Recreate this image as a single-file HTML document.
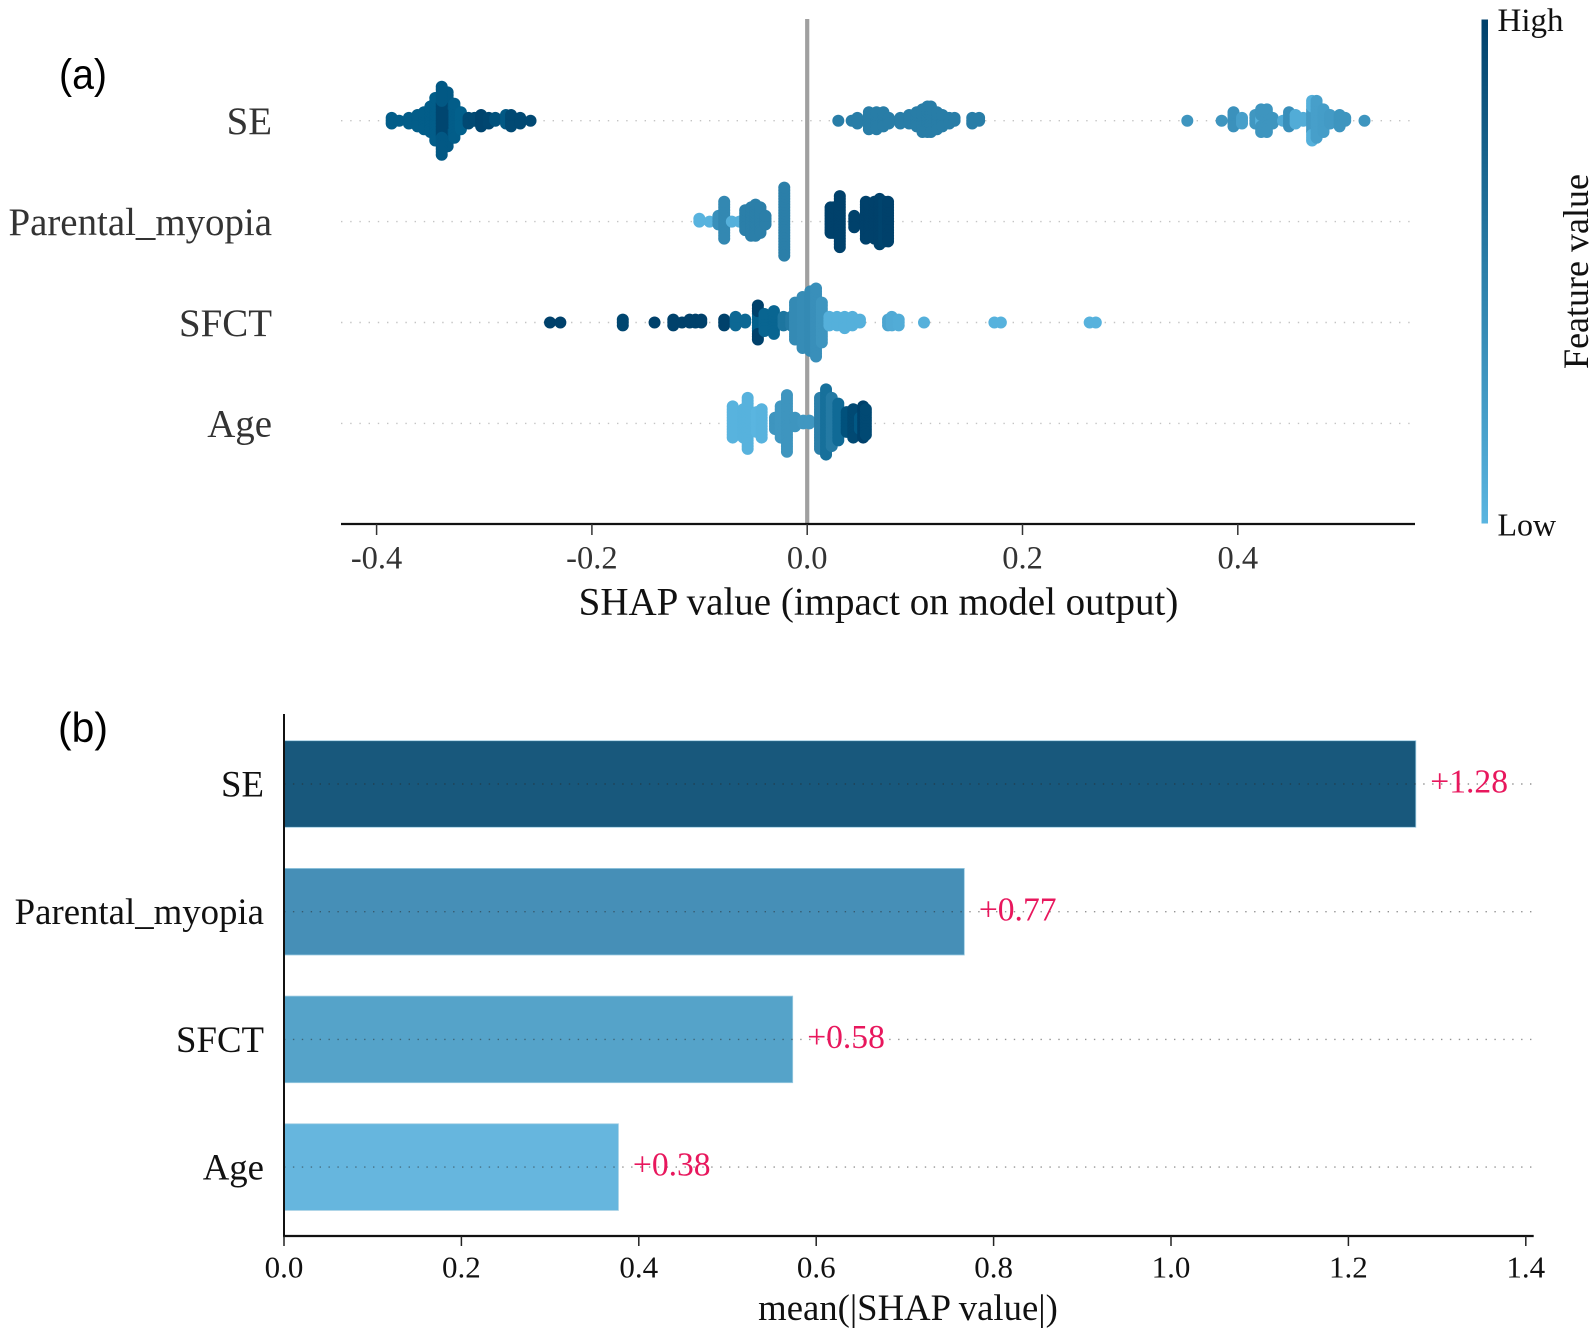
<!DOCTYPE html>
<html lang="en">
<head>
<meta charset="utf-8">
<title>SHAP summary and mean SHAP value charts</title>
<style>
html,body{margin:0;padding:0;background:#fff;}
svg{display:block;}
text{font-family:"Liberation Serif","Times New Roman",serif;}
</style>
</head>
<body>
<svg id="chart" xmlns="http://www.w3.org/2000/svg" width="1595" height="1337" viewBox="0 0 1595 1337">
  <defs>
    <linearGradient id="cbar" x1="0" y1="0" x2="0" y2="1">
      <stop offset="0" stop-color="#00416b"/>
      <stop offset="0.5" stop-color="#2b7fa9"/>
      <stop offset="1" stop-color="#5ab5e0"/>
    </linearGradient>
  </defs>
  <rect x="0" y="0" width="1595" height="1337" fill="#fff"/>

  <text x="59" y="88.5" font-size="42" fill="#000" style="font-family:'Liberation Sans',sans-serif" textLength="48" lengthAdjust="spacingAndGlyphs">(a)</text>
  <g id="panelA"></g>
  <rect x="1481.5" y="19.5" width="6.5" height="504" fill="url(#cbar)"/>
  <text x="1497.5" y="31" font-size="33" fill="#111">High</text>
  <text x="1497.5" y="535.5" font-size="32" fill="#111">Low</text>
  <text transform="translate(1588,271.5) rotate(-90)" text-anchor="middle" font-size="36" fill="#111">Feature value</text>
  <text x="878.5" y="614.3" text-anchor="middle" font-size="39" fill="#111">SHAP value (impact on model output)</text>

  <text x="58" y="742" font-size="42" fill="#000" style="font-family:'Liberation Sans',sans-serif" textLength="50" lengthAdjust="spacingAndGlyphs">(b)</text>
  <g id="panelB"></g>
  <text x="908" y="1320" text-anchor="middle" font-size="36.7" fill="#111">mean(|SHAP value|)</text>
</svg>

<script>
// ---- Shared categories ----
const features = ["SE", "Parental_myopia", "SFCT", "Age"];

// ---- Panel (a): distinct SHAP values, sample counts at each value, normalised feature values ----
const seShap = [-0.386,-0.379,-0.370,-0.362,-0.356,-0.350,-0.3455,-0.334,-0.334,-0.3277,-0.3217,-0.3395,-0.3395,-0.3146,-0.309,-0.3029,-0.2958,-0.2897,-0.2798,-0.2751,-0.2666,-0.257,
  0.0289,0.0413,0.0466,0.0573,0.0644,0.0708,0.0758,0.0865,0.0947,0.1017,0.1071,0.1117,0.1149,0.1206,0.1256,0.132,0.1369,0.1533,0.1597,
  0.3531,0.385,0.396,0.4039,0.4163,0.4217,0.4217,0.427,0.4324,0.442,0.4476,0.4537,0.4608,0.469,0.469,0.4732,0.4796,0.4857,0.4946,0.4998,0.5177];
const seCount = [3,1,3,5,7,10,16,10,10,13,7,12,13,3,2,5,3,2,4,5,3,1,
  1,1,3,7,7,6,3,3,4,6,9,10,10,7,5,3,2,3,2,
  1,1,6,3,4,3,6,9,3,1,6,4,2,9,6,14,9,4,5,2,1];
const seFeature = [0.82,0.82,0.82,0.82,0.82,0.82,0.82,0.95,0.85,0.82,0.8,0.97,0.85,0.95,0.95,0.98,0.97,0.9,0.85,0.95,0.95,0.95,
  0.52,0.52,0.52,0.52,0.52,0.52,0.52,0.52,0.52,0.52,0.52,0.52,0.52,0.52,0.52,0.52,0.52,0.52,0.52,
  0.3,0.3,0.33,0.2,0.28,0.03,0.3,0.3,0.3,0.1,0.35,0.08,0.08,0.25,0.05,0.2,0.22,0.25,0.3,0.3,0.3];

const parentalShap = [-0.1002,-0.0907,-0.0825,-0.0771,-0.07,-0.0629,-0.0576,-0.0522,-0.048,-0.0434,-0.0387,-0.0213,
  0.0217,0.0242,0.0303,0.0437,0.0545,0.058,0.0625,0.0673,0.0715,0.0751];
const parentalCount = [2,1,4,14,1,1,8,11,12,10,4,25,10,10,19,5,14,12,14,17,15,15];
const parentalFeature = [0.02,0.02,0.35,0.42,0.05,0.05,0.5,0.5,0.5,0.5,0.5,0.5,1,1,1,1,1,1,1,1,0.98,1];

const sfctShap = [-0.2389,-0.2293,-0.1713,-0.1418,-0.1244,-0.1163,-0.1092,-0.1038,-0.0984,-0.0771,-0.0665,-0.0576,-0.0458,-0.0458,-0.0397,-0.0309,-0.022,-0.0149,-0.0113,-0.0043,0.0029,0.0082,0.0136,
  0.0206,0.0277,0.0348,0.042,0.049,0.0751,0.0786,0.085,0.1085,0.1739,0.1799,0.2624,0.2681];
const sfctCount = [1,1,3,1,3,1,2,2,2,3,4,2,7,6,7,9,4,4,14,19,22,25,15,4,4,5,4,2,3,4,3,1,1,1,1,1];
const sfctFeature = [1,1,0.97,1,1,1,1,1,1,1,0.72,0.72,0.8,1,0.75,0.75,0.6,0.55,0.4,0.38,0.4,0.35,0.3,
  0.05,0.05,0.05,0.05,0.05,0.15,0.1,0.08,0.05,0.03,0.03,0.03,0.03];

const ageShap = [-0.0692,-0.0593,-0.0553,-0.0469,-0.0423,-0.0299,-0.0246,-0.0188,-0.0113,-0.0036,0.002,
  0.0119,0.0175,0.0228,0.0289,0.0367,0.0428,0.049,0.052,0.0545];
const ageCount = [12,11,19,8,11,5,12,21,4,2,2,19,24,18,14,8,11,5,12,10];
const ageFeature = [0.02,0.03,0.03,0,0.02,0.3,0.28,0.3,0.3,0.28,0.28,0.5,0.65,0.55,0.7,0.9,0.95,0.85,1,0.95];

const shapTicks = [-0.4, -0.2, 0, 0.2, 0.4];
const shapTickLabels = ["-0.4", "-0.2", "0.0", "0.2", "0.4"];

// ---- Panel (b) ----
const barValues = [1.276, 0.767, 0.5735, 0.377];
const barLabels = ["+1.28", "+0.77", "+0.58", "+0.38"];
const barTicks = [0, 0.2, 0.4, 0.6, 0.8, 1.0, 1.2, 1.4];
const barTickLabels = ["0.0", "0.2", "0.4", "0.6", "0.8", "1.0", "1.2", "1.4"];

// ---- Axis functions and rendering ----
const NS = "http://www.w3.org/2000/svg";
const xA = v => 807.2 + v * 1076.5;
const yA = i => 120.7 + i * 100.9;
const xB = v => 284 + v * 887;
const yB = i => 784 + i * 127.7;
const barFill = ["#18587c", "#468fb7", "#55a3c9", "#66b6de"];
const stopAt = [0, 0.5, 0.8, 1];
const stopColor = [[90,181,224],[43,127,169],[2,96,140],[0,65,107]];

function colorOf(f) {
  const t = Math.max(0, Math.min(1, f));
  let k = 0;
  while (k < stopAt.length - 2 && t > stopAt[k + 1]) k++;
  const u = (t - stopAt[k]) / (stopAt[k + 1] - stopAt[k]);
  const c = [0,1,2].map(j => Math.round(stopColor[k][j] + (stopColor[k+1][j] - stopColor[k][j]) * u));
  return "rgb(" + c.join(",") + ")";
}
function make(parent, tag, attrs) {
  const el = document.createElementNS(NS, tag);
  for (const key in attrs) el.setAttribute(key, attrs[key]);
  parent.appendChild(el);
  return el;
}

// SHAP-style beeswarm layering: samples sharing a quantised value stack outward from the row centre
function swarm(parent, rowIndex, shap, count, feature) {
  const pts = [];
  shap.forEach((v, i) => {
    for (let n = 0; n < count[i]; n++) pts.push({v: v, f: feature[i]});
  });
  const lo = Math.min(...shap), hi = Math.max(...shap);
  const layers = {};
  let maxY = 1;
  pts.forEach(p => {
    const q = Math.round(300 * (p.v - lo) / (hi - lo + 1e-8));
    const layer = layers[q] || 0;
    p.off = Math.ceil(layer / 2) * ((layer % 2) * 2 - 1);
    layers[q] = layer + 1;
    maxY = Math.max(maxY, Math.abs(p.off));
  });
  const step = 34 / maxY;
  pts.forEach(p => {
    const dot = make(parent, "circle", {cx: xA(p.v), cy: yA(rowIndex) - p.off * step, r: 6, fill: colorOf(p.f)});
    
    
  });
}

const panelA = document.getElementById("panelA");
features.forEach((name, i) => {
  const dots = make(panelA, "line", {x1: 341, x2: 1415, y1: yA(i), y2: yA(i), stroke: "#c4c4c4", "stroke-width": 1.4, "stroke-dasharray": "1.4 7.8"});
  
  
  const label = make(panelA, "text", {x: 272, y: yA(i) + 13.3, "text-anchor": "end", "font-size": 38.9, fill: "#333"});
  label.textContent = name;
  
  
});
const zero = make(panelA, "line", {x1: xA(0), x2: xA(0), y1: 19, y2: 524, stroke: "#a0a0a0", "stroke-width": 4.2});



swarm(panelA, 0, seShap, seCount, seFeature);
swarm(panelA, 1, parentalShap, parentalCount, parentalFeature);
swarm(panelA, 2, sfctShap, sfctCount, sfctFeature);
swarm(panelA, 3, ageShap, ageCount, ageFeature);

const axisA = make(panelA, "line", {x1: 341, x2: 1415, y1: 524, y2: 524, stroke: "#111", "stroke-width": 2.3});


shapTicks.forEach((t, i) => {
  const tick = make(panelA, "line", {x1: xA(t), x2: xA(t), y1: 524, y2: 535, stroke: "#333", "stroke-width": 1.5});
  
  
  const lab = make(panelA, "text", {x: xA(t), y: 568.7, "text-anchor": "middle", "font-size": 32.5, fill: "#333"});
  lab.textContent = shapTickLabels[i];
  
  
});

const panelB = document.getElementById("panelB");
features.forEach((name, i) => {
  const bar = make(panelB, "rect", {x: xB(0), y: yB(i) - 43.3, width: xB(barValues[i]) - xB(0), height: 86.6, fill: barFill[i], stroke: "#9ccbe2", "stroke-width": 0.8});
  
  
  const guide = make(panelB, "line", {x1: xB(0), x2: 1534, y1: yB(i), y2: yB(i), stroke: "rgba(40,40,40,0.5)", "stroke-width": 1.4, "stroke-dasharray": "1.4 7.5"});
  
  
  const label = make(panelB, "text", {x: 264, y: yB(i) + 12.5, "text-anchor": "end", "font-size": 36.8, fill: "#111"});
  label.textContent = name;
  
  
  const val = make(panelB, "text", {x: xB(barValues[i]) + 14.5, y: yB(i) + 8.6, "font-size": 33.6, fill: "#e8175d"});
  val.textContent = barLabels[i];
  
  
});
const yAxisB = make(panelB, "line", {x1: 284, x2: 284, y1: 714, y2: 1236, stroke: "#111", "stroke-width": 2});


const xAxisB = make(panelB, "line", {x1: 283, x2: 1533.7, y1: 1236, y2: 1236, stroke: "#111", "stroke-width": 2.3});


barTicks.forEach((t, i) => {
  const tick = make(panelB, "line", {x1: xB(t), x2: xB(t), y1: 1236, y2: 1246, stroke: "#222", "stroke-width": 1.5});
  
  
  const lab = make(panelB, "text", {x: xB(t), y: 1277.7, "text-anchor": "middle", "font-size": 31, fill: "#111"});
  lab.textContent = barTickLabels[i];
  
  
});
</script>
</body>
</html>
